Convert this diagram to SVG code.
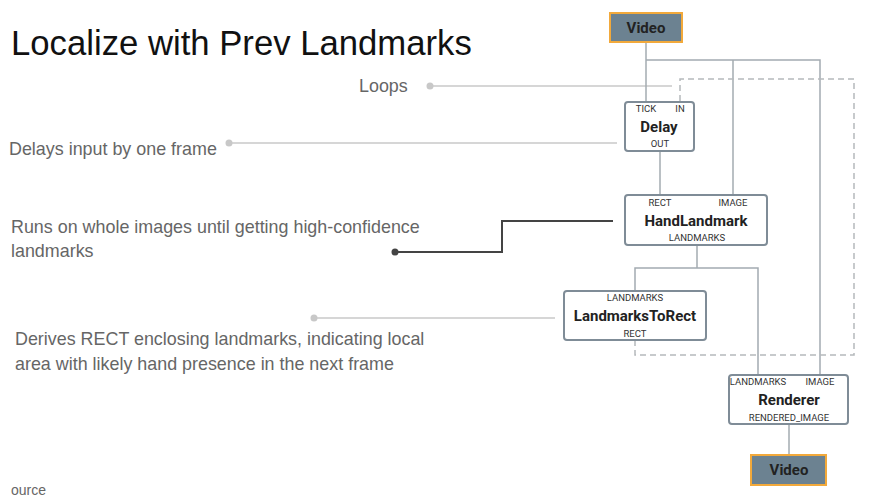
<svg xmlns="http://www.w3.org/2000/svg" width="875" height="498" viewBox="0 0 875 498">
<style>
.ann{font-family:"Liberation Sans",Arial,sans-serif;font-size:17.9px;fill:#666}
.title{font-family:"Liberation Sans",Arial,sans-serif;font-size:34.7px;fill:#111}
.box{fill:#fff;stroke:#7f8c97;stroke-width:2}
.vid{fill:#6c8291;stroke:#f2a93b;stroke-width:2}
.nm{font-family:Roboto,"Liberation Sans",sans-serif;font-weight:bold;font-size:15px;fill:#222;text-anchor:middle}
.pt{font-family:Roboto,"Liberation Sans",sans-serif;font-size:9.5px;fill:#333;text-anchor:middle}
.c{fill:none;stroke:#a3abb1;stroke-width:1.5}
.d{fill:none;stroke:#b5b9bc;stroke-width:1.5;stroke-dasharray:6,4}
.al{fill:none;stroke:#c8c8c8;stroke-width:1.5}
</style>
<rect width="875" height="498" fill="#fff"/>
<text class="title" x="11" y="55">Localize with Prev Landmarks</text>
<g id="annotations">
<text class="ann" x="359" y="92">Loops</text>
<line class="al" x1="430" y1="86" x2="672" y2="86"/>
<circle cx="430" cy="86" r="3.5" fill="#c8c8c8"/>
<text class="ann" x="9" y="155">Delays input by one frame</text>
<line class="al" x1="229" y1="143" x2="617" y2="143"/>
<circle cx="229" cy="143" r="3.5" fill="#c8c8c8"/>
<text class="ann" x="11" y="233">Runs on whole images until getting high-confidence</text>
<text class="ann" x="11" y="257">landmarks</text>
<polyline points="395,252 502,252 502,221 613,221" fill="none" stroke="#444" stroke-width="2"/>
<circle cx="395" cy="252" r="3.5" fill="#444"/>
<text class="ann" x="15" y="345">Derives RECT enclosing landmarks, indicating local</text>
<text class="ann" x="15" y="370">area with likely hand presence in the next frame</text>
<line class="al" x1="314" y1="318" x2="555" y2="318"/>
<circle cx="314" cy="318" r="3.5" fill="#c8c8c8"/>
<text x="11" y="495" font-family="Liberation Sans,Arial,sans-serif" font-size="14" fill="#666">ource</text>
</g>
<g id="connectors">
<polyline class="c" points="646,42 646,102"/>
<polyline class="c" points="646,60 820,60 820,375"/>
<polyline class="c" points="733,60 733,195"/>
<polyline class="c" points="660,151 660,195"/>
<polyline class="c" points="697,245 697,268"/>
<polyline class="c" points="635,291 635,268 758,268 758,375"/>
<polyline class="c" points="789,424 789,455"/>
<polyline class="d" points="635,340 635,355 854,355 854,79 680,79 680,102"/>
</g>
<g id="video-in">
<rect class="vid" x="610" y="13" width="72" height="29"/>
<text class="nm" x="646" y="33">Video</text>
</g>
<g id="delay">
<rect class="box" x="625" y="102" width="69" height="49" rx="3"/>
<text class="pt" x="646" y="112">TICK</text>
<text class="pt" x="680" y="112">IN</text>
<text class="nm" x="659" y="132">Delay</text>
<text class="pt" x="660" y="147">OUT</text>
</g>
<g id="handlandmark">
<rect class="box" x="625" y="195" width="142" height="50" rx="3"/>
<text class="pt" x="660" y="206">RECT</text>
<text class="pt" x="733" y="206">IMAGE</text>
<text class="nm" x="696" y="226">HandLandmark</text>
<text class="pt" x="697" y="241">LANDMARKS</text>
</g>
<g id="landmarkstorect">
<rect class="box" x="564" y="291" width="142" height="49" rx="3"/>
<text class="pt" x="635" y="301">LANDMARKS</text>
<text class="nm" x="635" y="321">LandmarksToRect</text>
<text class="pt" x="635" y="337">RECT</text>
</g>
<g id="renderer">
<rect class="box" x="729" y="375" width="119" height="49" rx="3"/>
<text class="pt" x="758" y="385">LANDMARKS</text>
<text class="pt" x="820" y="385">IMAGE</text>
<text class="nm" x="789" y="405">Renderer</text>
<text class="pt" x="789" y="421">RENDERED_IMAGE</text>
</g>
<g id="video-out">
<rect class="vid" x="751" y="455" width="75" height="30"/>
<text class="nm" x="789" y="475">Video</text>
</g>
</svg>
